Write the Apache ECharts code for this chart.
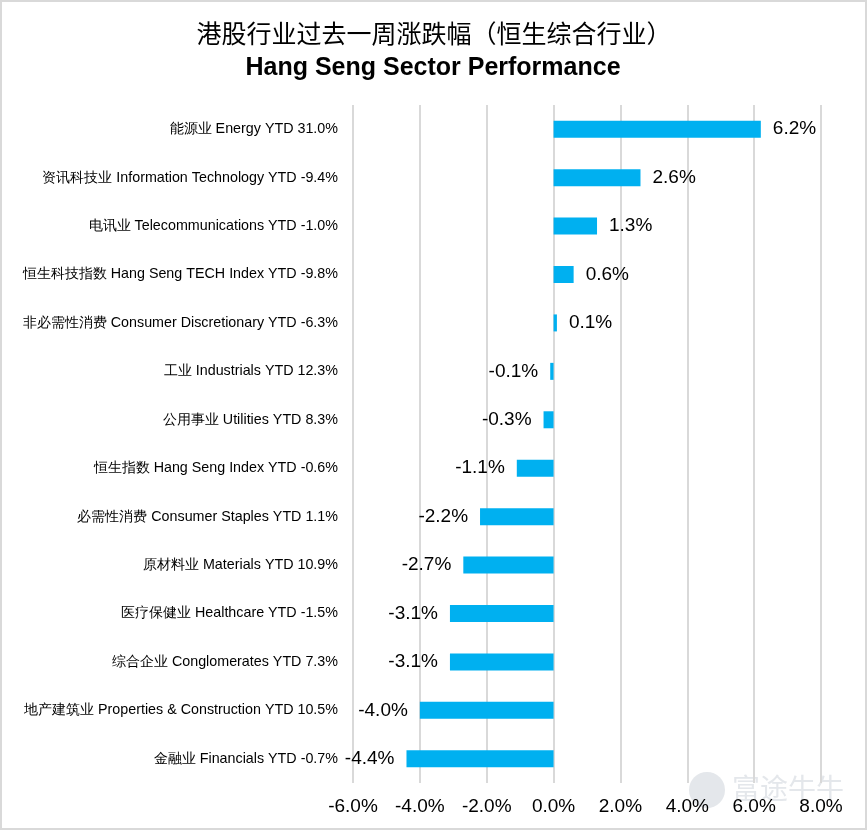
<!DOCTYPE html>
<html>
<head>
<meta charset="utf-8">
<script src="https://cdn.jsdelivr.net/npm/echarts@6/dist/echarts.min.js"></script>
<style>
  html, body { margin: 0; padding: 0; background: #fff; }
  #main { width: 867px; height: 830px; box-sizing: border-box; border: 2px solid #d9d9d9; }
</style>
</head>
<body>
<div id="main"></div>
<script>
const sectors = [
  '能源业 Energy YTD 31.0%',
  '资讯科技业 Information Technology YTD -9.4%',
  '电讯业 Telecommunications YTD -1.0%',
  '恒生科技指数 Hang Seng TECH Index YTD -9.8%',
  '非必需性消费 Consumer Discretionary YTD -6.3%',
  '工业 Industrials YTD 12.3%',
  '公用事业 Utilities YTD 8.3%',
  '恒生指数 Hang Seng Index YTD -0.6%',
  '必需性消费 Consumer Staples YTD 1.1%',
  '原材料业 Materials YTD 10.9%',
  '医疗保健业 Healthcare YTD -1.5%',
  '综合企业 Conglomerates YTD 7.3%',
  '地产建筑业 Properties & Construction YTD 10.5%',
  '金融业 Financials YTD -0.7%'
];
const weekChange = [6.2, 2.6, 1.3, 0.6, 0.1, -0.1, -0.3, -1.1, -2.2, -2.7, -3.1, -3.1, -4.0, -4.4];

const chart = echarts.init(document.getElementById('main'));

var option = {
  backgroundColor: '#fff',
  title: [
    {
      text: '港股行业过去一周涨跌幅（恒生综合行业）',
      left: 427, top: 14, textAlign: 'center',
      textStyle: { fontFamily: 'Noto Sans CJK SC', fontSize: 25, fontWeight: 'normal', color: '#000' }
    },
    {
      text: 'Hang Seng Sector Performance',
      left: 426, top: 49, textAlign: 'center',
      textStyle: { fontFamily: 'Liberation Sans', fontSize: 25, fontWeight: 'bold', color: '#000' }
    }
  ],
  grid: { left: 351, right: 44, top: 103, bottom: 45 },
  xAxis: {
    type: 'value',
    min: -6, max: 8, interval: 2,
    axisLabel: {
      formatter: v => v.toFixed(1) + '%',
      fontFamily: 'Liberation Sans', fontSize: 19, color: '#000', margin: 14
    },
    axisLine: { show: false },
    axisTick: { show: false },
    splitLine: { lineStyle: { color: '#d9d9d9', width: 2 } }
  },
  yAxis: {
    type: 'category',
    inverse: true,
    data: sectors,
    axisLine: { show: false },
    axisTick: { show: false },
    axisLabel: { fontFamily: 'Liberation Sans', fontSize: 14.3, color: '#000', margin: 15 }
  },
  series: [{
    type: 'bar',
    barWidth: 17,
    itemStyle: { color: '#00b0f0' },
    data: weekChange.map(v => ({
      value: v,
      label: { position: v >= 0 ? 'right' : 'left' }
    })),
    label: {
      show: true,
      distance: 12,
      formatter: p => p.value.toFixed(1) + '%',
      fontFamily: 'Liberation Sans', fontSize: 19, color: '#000'
    }
  }],
  graphic: [
    {
      type: 'text', left: 730, top: 772,
      style: { text: '富途牛牛', fontFamily: 'Noto Sans CJK SC', fontSize: 28, fill: '#e4e7eb' },
      z: -1
    },
    {
      type: 'circle', shape: { cx: 705, cy: 788, r: 18 },
      style: { fill: '#e4e7eb' }, z: -1
    }
  ]
};

chart.setOption(option);
</script>
</body>
</html>
